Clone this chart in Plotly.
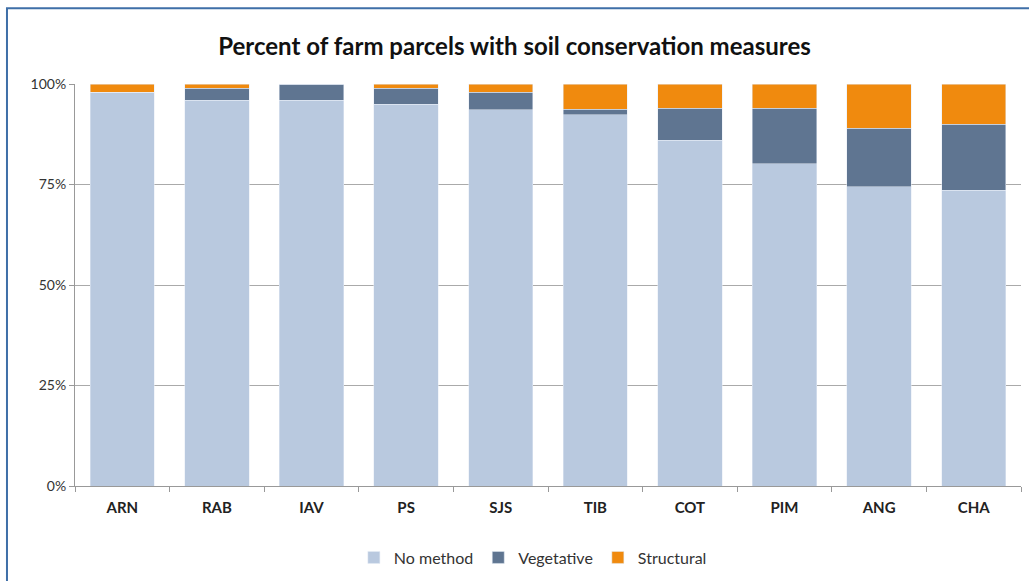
import plotly.graph_objects as go

regions = ["ARN", "RAB", "IAV", "PS", "SJS", "TIB", "COT", "PIM", "ANG", "CHA"]
no_method = [98, 96, 96, 95, 93.6, 92.3, 86, 80.2, 74.5, 73.6]
vegetative = [0, 3, 4, 4, 4.4, 1.4, 8, 13.8, 14.5, 16.4]
structural = [2, 1, 0, 1, 2, 6.3, 6, 6, 11, 10]

fig = go.Figure()
fig.add_bar(x=regions, y=no_method, name="No method", marker_color="#b9c9df")
fig.add_bar(x=regions, y=vegetative, name="Vegetative", marker_color="#5f7591")
fig.add_bar(x=regions, y=structural, name="Structural", marker_color="#f08a0e")

fig.update_layout(
    barmode="stack",
    bargap=0.32,
    width=1029, height=581,
    margin=dict(l=75, r=8, t=84, b=94),
    paper_bgcolor="white", plot_bgcolor="white",
    font=dict(family="Lato, Open Sans, sans-serif", color="#333333"),
    title=dict(text="<b>Percent of farm parcels with soil conservation measures</b>",
               x=0.5, xanchor="center", y=0.919, yanchor="middle",
               font=dict(size=24, color="#111111")),
    legend=dict(orientation="h", x=0.484, xanchor="center", y=-0.175, yanchor="middle",
                font=dict(size=16, color="#333333"), itemwidth=30,
                traceorder="normal"),
    showlegend=True,
)
fig.update_xaxes(
    showline=True, linecolor="#999999", linewidth=1,
    ticks="outside", tickson="boundaries", ticklen=5, tickcolor="#999999",
    tickfont=dict(size=15, color="#222222", family="Lato, sans-serif", weight="bold"),
    ticklabelstandoff=8,
)
fig.update_yaxes(
    range=[0, 100], tickvals=[0, 25, 50, 75, 100],
    ticktext=["0%", "25%", "50%", "75%", "100%"],
    showgrid=True, gridcolor="#aaaaaa", gridwidth=1,
    showline=True, linecolor="#999999", linewidth=1,
    ticks="outside", ticklen=5, tickcolor="#999999",
    tickfont=dict(size=14, color="#333333"),
    zeroline=False,
)
fig.add_shape(type="rect", xref="paper", yref="paper",
              x0=-0.0719, x1=1.05, y0=-0.25, y1=1.1886,
              line=dict(color="#3f6fa8", width=2), layer="below")
fig.write_html("out.html")
